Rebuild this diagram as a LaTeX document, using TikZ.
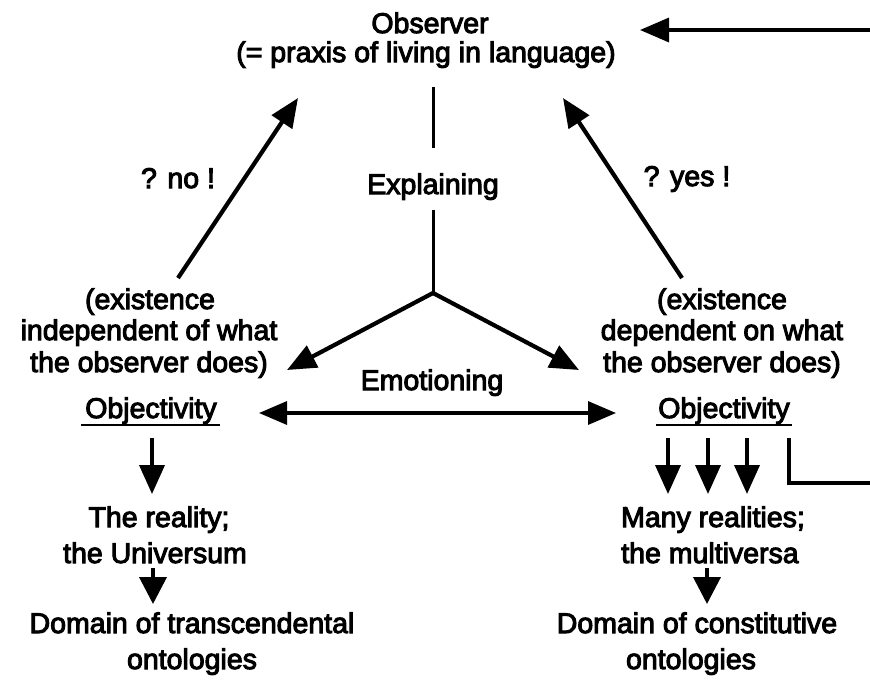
\documentclass[tikz,border=0pt]{standalone}
\usepackage{fontspec}
\setmainfont{Liberation Sans}[FakeBold=3.5]
\usetikzlibrary{arrows.meta,calc}
\begin{document}
\begin{tikzpicture}[x=1pt,y=-1pt,
  txt/.style={anchor=base,inner sep=0pt,font=\fontsize{28.5}{31}\selectfont},
  arr/.style={line width=4.2pt,-{Triangle[length=29pt,width=24pt]}},
  downarr/.style={line width=3.8pt,-{Triangle[length=29pt,width=25pt]}},
  shortarr/.style={line width=3.8pt,-{Triangle[length=27pt,width=27pt]}},
  twoway/.style={line width=3.4pt,{Triangle[length=28pt,width=23pt]}-{Triangle[length=28pt,width=23pt]}},
  plain/.style={line width=3.4pt},
  uline/.style={line width=2.6pt}]
\useasboundingbox[fill=white] (0,0) rectangle (870,681);

% top: the observer
\node[txt] (obs)  at (430,33) {Observer};
\node[txt] (obs2) at (426,62) {(= praxis of living in language)};
\node[txt] (expl) at (433,194) {Explaining};
\coordinate (obsfoot) at (433,87);
\coordinate (jn) at (433,293);

% questions on the two sides
\node[txt] (no)  at (178,188) {? no !};
\node[txt] (yes) at (687,186) {? yes !};

% left column
\node[txt] (l1) at (150,309) {(existence};
\node[txt] (l2) at (149,340) {independent of what};
\node[txt] (l3) at (149,372) {the observer does)};
\node[txt] (lobj) at (151,418) {Objectivity};
\node[txt] (lr1) at (159,527) {The reality;};
\node[txt] (lr2) at (155,563) {the Universum};
\node[txt] (ld1) at (192,633) {Domain of transcendental};
\node[txt] (ld2) at (192,669) {ontologies};

% right column
\node[txt] (r1) at (722,309) {(existence};
\node[txt] (r2) at (722,340) {dependent on what};
\node[txt] (r3) at (722,372) {the observer does)};
\node[txt] (robj) at (724,418) {Objectivity};
\node[txt] (rr1) at (713,527) {Many realities;};
\node[txt] (rr2) at (710,563) {the multiversa};
\node[txt] (rd1) at (697,633) {Domain of constitutive};
\node[txt] (rd2) at (691,669) {ontologies};

\node[txt] (emo) at (432,390) {Emotioning};

% underlines
\draw[uline] ($(lobj.base west)+(-4,7)$) -- ($(lobj.base east)+(3,7)$);
\draw[uline] ($(robj.base west)+(-2,7)$) -- ($(robj.base east)+(2,7)$);

% explaining stem and its two branches
\draw[plain,line width=3pt] (obsfoot) -- (433,148);
\draw[plain,line width=3pt] (433,210) -- (jn);
\coordinate (tipL) at (287,370);
\coordinate (tipR) at (579,370);
\draw[arr] (jn) -- (tipL);
\draw[arr] (jn) -- (tipR);

% questions back to the observer
\coordinate (noFoot) at (178,278);
\coordinate (noTip) at (298,98);
\coordinate (yesFoot) at (682,278);
\coordinate (yesTip) at (563,98);
\draw[arr] (noFoot) -- (noTip);
\draw[arr] (yesFoot) -- (yesTip);

% emotioning between the two objectivities
\coordinate (emoL) at (259,413);
\coordinate (emoR) at (616,413);
\draw[twoway] (emoL) -- (emoR);

% consequences on the left
\draw[downarr] (152,438) -- (152,494);
\draw[shortarr] (153,568) -- (153,604);

% consequences on the right
\draw[downarr] (668,438) -- (668,494);
\draw[downarr] (708,438) -- (708,494);
\draw[downarr] (747,438) -- (747,494);
\draw[shortarr] (707,568) -- (707,604);

% feedback loop back to the observer
\coordinate (fbA) at (789,438);
\coordinate (fbB) at (880,483);
\coordinate (fbC) at (880,30);
\coordinate (fbTip) at (640,30);
\draw[plain] (fbA) |- (fbB);
\draw[arr,line width=3.4pt] (fbC) -- (fbTip);
\end{tikzpicture}
\end{document}
